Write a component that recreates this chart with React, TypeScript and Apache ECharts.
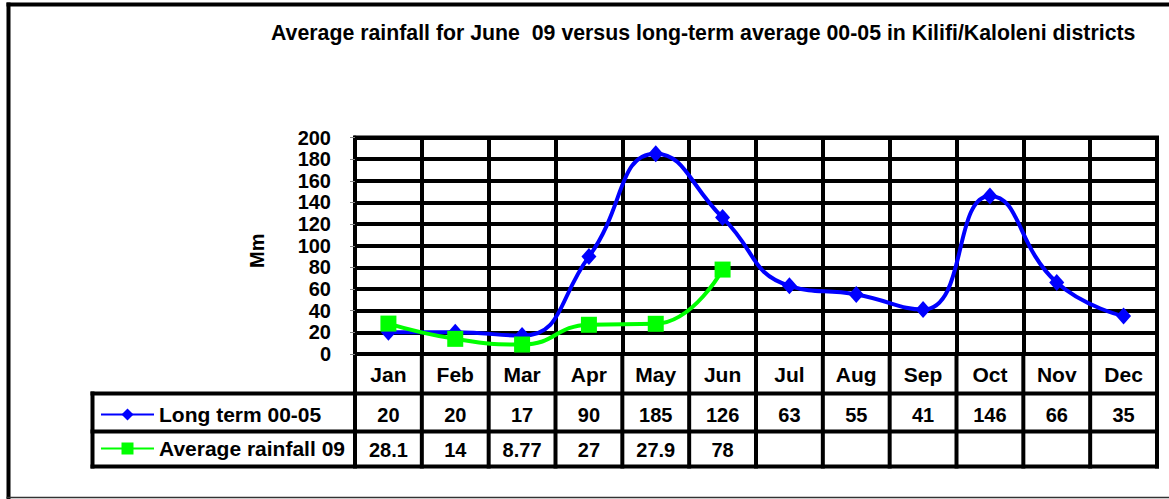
import React, { useEffect, useRef } from "react";
import * as echarts from "echarts";

const months = ["Jan", "Feb", "Mar", "Apr", "May", "Jun", "Jul", "Aug", "Sep", "Oct", "Nov", "Dec"];
const longTerm = [20, 20, 17, 90, 185, 126, 63, 55, 41, 146, 66, 35];
const rainfall09 = [28.1, 14, 8.77, 27, 27.9, 78, null, null, null, null, null, null];
const seriesNames = ["Long term 00-05", "Average rainfall 09"];
const titleText = "Average rainfall for June  09 versus long-term average 00-05 in Kilifi/Kaloleni districts";
const yTitle = "Mm";

const W = 1169;
const H = 499;
const PL = 355;
const PR = 1157;
const PT = 137.5;
const PB = 354;
const ROW1 = 393.5;
const ROW2 = 431.5;
const ROW3 = 466.5;
const LEG_L = 92.5;
const FONT = "Arial, 'Liberation Sans', sans-serif";

export default function App() {
  const ref = useRef<HTMLDivElement>(null);
  useEffect(() => {
    if (!ref.current) return;
    const chart = echarts.init(ref.current, null, { renderer: "svg" });
    const colW = (PR - PL) / months.length;
    const lineStyle = { stroke: "#000", lineWidth: 4 };
    const graphics: any[] = [];
    // outer frame
    graphics.push({ type: "line", shape: { x1: 6.5, y1: 4.5, x2: W, y2: 4.5 }, style: { stroke: "#000", lineWidth: 4 } });
    graphics.push({ type: "line", shape: { x1: 8.5, y1: 2.5, x2: 8.5, y2: H }, style: { stroke: "#000", lineWidth: 4 } });
    graphics.push({ type: "line", shape: { x1: 6.5, y1: 497.5, x2: W, y2: 497.5 }, style: { stroke: "#333", lineWidth: 1.5 } });
    // table
    [ROW1, ROW2, ROW3].forEach((y) => {
      graphics.push({ type: "line", shape: { x1: LEG_L - 2, y1: y, x2: PR + 2, y2: y }, style: lineStyle });
    });
    for (let i = 0; i <= months.length; i++) {
      const x = PL + i * colW;
      graphics.push({ type: "line", shape: { x1: x, y1: PB, x2: x, y2: ROW3 + 2 }, style: lineStyle });
    }
    graphics.push({ type: "line", shape: { x1: LEG_L, y1: ROW1 - 2, x2: LEG_L, y2: ROW3 + 2 }, style: lineStyle });

    const labelBase = { fontSize: 20, fontWeight: "bold", color: "#000", fontFamily: FONT, interval: 0 };

    chart.setOption({
      animation: false,
      backgroundColor: "#fff",
      textStyle: { fontFamily: FONT },
      title: {
        text: titleText,
        left: 271,
        top: 22,
        padding: 0,
        textStyle: { fontSize: 21.3, fontWeight: "bold", color: "#000", fontFamily: FONT },
      },
      legend: {
        orient: "vertical",
        left: 100,
        top: 404,
        padding: 0,
        itemWidth: 53,
        itemHeight: 15,
        itemGap: 13,
        data: seriesNames,
        textStyle: { fontSize: 21, fontWeight: "bold", color: "#000", fontFamily: FONT },
      },
      grid: {
        left: PL,
        top: PT,
        width: PR - PL,
        height: PB - PT,
        show: true,
        borderColor: "#000",
        borderWidth: 4,
        containLabel: false,
      },
      xAxis: [
        {
          type: "category",
          data: months,
          boundaryGap: true,
          position: "bottom",
          axisLine: { show: true, lineStyle: { color: "#000", width: 4 } },
          axisTick: { show: false },
          splitLine: { show: true, lineStyle: { color: "#000", width: 4 } },
          axisLabel: { ...labelBase, fontSize: 21, margin: 10 },
        },
        {
          type: "category",
          data: months,
          boundaryGap: true,
          position: "bottom",
          offset: 41,
          axisLine: { show: false },
          axisTick: { show: false },
          splitLine: { show: false },
          axisLabel: { ...labelBase, margin: 10, formatter: (_v: string, i: number) => String(longTerm[i]) },
        },
        {
          type: "category",
          data: months,
          boundaryGap: true,
          position: "bottom",
          offset: 76,
          axisLine: { show: false },
          axisTick: { show: false },
          splitLine: { show: false },
          axisLabel: {
            ...labelBase,
            margin: 10,
            formatter: (_v: string, i: number) => (rainfall09[i] == null ? "" : String(rainfall09[i])),
          },
        },
      ],
      yAxis: {
        type: "value",
        min: 0,
        max: 200,
        interval: 20,
        name: yTitle,
        nameLocation: "middle",
        nameRotate: 90,
        nameGap: 88,
        nameTextStyle: { fontSize: 20, fontWeight: "bold", color: "#000", fontFamily: FONT, padding: [0, 10, 0, 0] },
        axisLine: { show: true, lineStyle: { color: "#000", width: 4 } },
        axisTick: { show: true, length: 5, lineStyle: { color: "#888", width: 1 } },
        splitLine: { show: true, lineStyle: { color: "#000", width: 4 } },
        axisLabel: { fontSize: 20, fontWeight: "bold", color: "#000", fontFamily: FONT, margin: 24 },
      },
      series: [
        {
          name: seriesNames[0],
          type: "line",
          data: longTerm,
          smooth: 0.5,
          symbol: "diamond",
          symbolSize: [15, 17],
          lineStyle: { color: "#0000ff", width: 4 },
          itemStyle: { color: "#0000ff" },
          z: 3,
        },
        {
          name: seriesNames[1],
          type: "line",
          data: rainfall09,
          smooth: 0.5,
          symbol: "rect",
          symbolSize: 16,
          lineStyle: { color: "#00ff00", width: 4 },
          itemStyle: { color: "#00ff00" },
          connectNulls: false,
          z: 4,
        },
      ],
      graphic: graphics,
    });
    return () => chart.dispose();
  }, []);
  return <div ref={ref} style={{ position: "fixed", left: 0, top: 0, width: W, height: H }} />;
}
